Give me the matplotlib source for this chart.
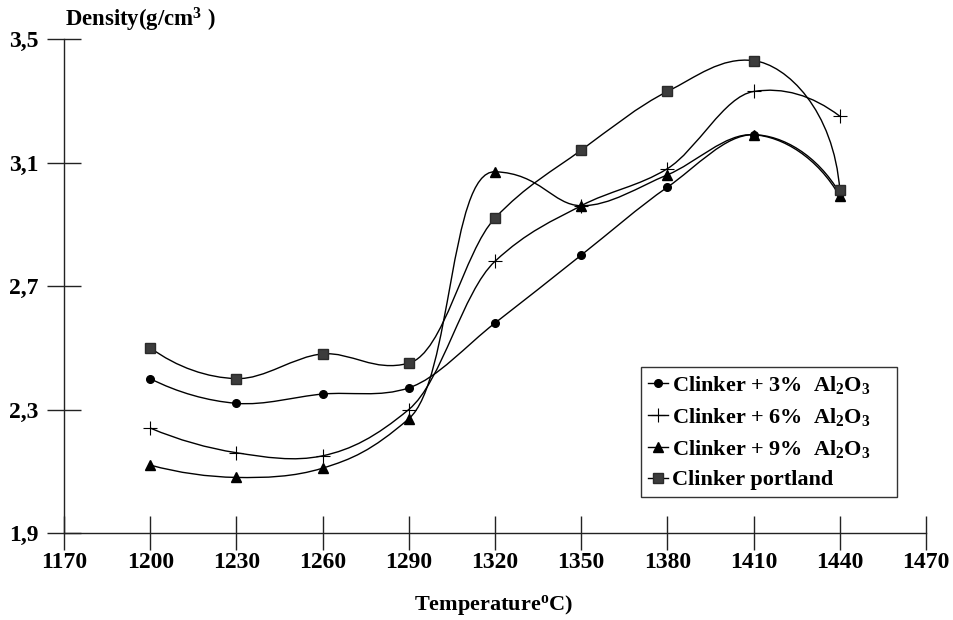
import numpy as np
import matplotlib
matplotlib.use("Agg")
import matplotlib.pyplot as plt
from matplotlib.path import Path
from matplotlib.patches import PathPatch
from matplotlib.lines import Line2D

plt.rcParams['font.family'] = ['Liberation Serif', 'DejaVu Serif']
plt.rcParams['font.weight'] = 'bold'
plt.rcParams['mathtext.default'] = 'regular'

temperature = [1200, 1230, 1260, 1290, 1320, 1350, 1380, 1410, 1440]
al3 = [2.40, 2.32, 2.35, 2.37, 2.58, 2.80, 3.02, 3.19, 3.00]
al6 = [2.24, 2.16, 2.15, 2.30, 2.78, 2.96, 3.08, 3.33, 3.25]
al9 = [2.12, 2.08, 2.11, 2.27, 3.07, 2.96, 3.06, 3.19, 2.99]
portland = [2.50, 2.40, 2.48, 2.45, 2.92, 3.14, 3.33, 3.43, 3.01]

labels = ['Clinker + 3%  Al$_2$O$_3$', 'Clinker + 6%  Al$_2$O$_3$',
          'Clinker + 9%  Al$_2$O$_3$', 'Clinker portland']
xticks = [1170, 1200, 1230, 1260, 1290, 1320, 1350, 1380, 1410, 1440, 1470]
yticks = [1.9, 2.3, 2.7, 3.1, 3.5]
yticklabels = ['1,9', '2,3', '2,7', '3,1', '3,5']


def smooth_path(ax, x, y):
    """Smoothed Bezier path through the points (control points computed in display space)."""
    tr = ax.transData
    pts = tr.transform(np.column_stack([x, y]).astype(float))
    n = len(pts)
    seg = pts[1:] - pts[:-1]
    d = np.hypot(seg[:, 0], seg[:, 1])
    u = seg / d[:, None]
    m = np.zeros_like(pts)
    span = np.zeros(n)
    for i in range(1, n - 1):
        v = u[i - 1] * d[i] + u[i] * d[i - 1]
        m[i] = v / np.hypot(*v)
        span[i] = np.hypot(*(pts[i + 1] - pts[i - 1])) / 6
    verts = [pts[0]]
    codes = [Path.MOVETO]
    for i in range(n - 1):
        if i == 0:
            c1 = pts[0] + (2 * u[0] - m[1]) * d[0] / 3
        else:
            c1 = pts[i] + m[i] * min(span[i], d[i] / 2)
        if i + 1 == n - 1:
            c2 = pts[-1] - (2 * u[-1] - m[-2]) * d[-1] / 3
        else:
            c2 = pts[i + 1] - m[i + 1] * min(span[i + 1], d[i] / 2)
        verts += [c1, c2, pts[i + 1]]
        codes += [Path.CURVE4] * 3
    verts = tr.inverted().transform(np.array(verts))
    return Path(verts, codes)


fig = plt.figure(figsize=(9.54, 6.2), dpi=100)
ax = fig.add_axes([64 / 954, 87 / 620, 862 / 954, 494 / 620])
ax.set_xlim(1170, 1470)
ax.set_ylim(1.9, 3.5)

styles = [
    dict(marker='o', markersize=5.5, markerfacecolor='black', markeredgecolor='black'),
    dict(marker='+', markersize=10, markeredgewidth=0.8, markeredgecolor='black'),
    dict(marker='^', markersize=7, markerfacecolor='black', markeredgecolor='black'),
    dict(marker='s', markersize=7.5, markerfacecolor='#3c3c3c', markeredgecolor='#2a2a2a'),
]
series = [al3, al6, al9, portland]
handles = []
for vals, st, lab in zip(series, styles, labels):
    ax.add_patch(PathPatch(smooth_path(ax, temperature, vals), facecolor='none',
                           edgecolor='black', lw=1.0))
    ax.plot(temperature, vals, linestyle='none', **st)
    handles.append(Line2D([], [], color='black', lw=1.0, **st))

ax.set_xticks(xticks)
ax.set_xticklabels([str(t) for t in xticks])
ax.set_yticks(yticks)
ax.set_yticklabels(yticklabels)
for s in ['top', 'right']:
    ax.spines[s].set_visible(False)
for s in ['left', 'bottom']:
    ax.spines[s].set_linewidth(1.0)
    ax.spines[s].set_color('#222222')
ax.tick_params(axis='both', direction='inout', length=25, width=1.0, color='#222222',
               labelsize=17)
ax.tick_params(axis='y', pad=6)
ax.tick_params(axis='x', pad=1)
for lbl in ax.get_xticklabels() + ax.get_yticklabels():
    lbl.set_fontweight('bold')

fig.text(494 / 954, 1 - 605 / 620, 'Temperature$^o$C)', ha='center', va='center',
         fontsize=16, fontweight='bold')
fig.text(65 / 954, 1 - 26 / 620, 'Density(g/cm$^3$ )', ha='left', va='baseline',
         fontsize=16.4, fontweight='bold')

leg = ax.legend(handles, labels, loc='lower left',
                bbox_to_anchor=((641 - 64) / 862, (533 - 497) / 494, 256 / 862, 129 / 494),
                mode='expand', frameon=True, fancybox=False, shadow=False, fontsize=16,
                handlelength=0.9, handletextpad=0.18, labelspacing=0.45,
                borderpad=0.3, borderaxespad=0)
leg.get_frame().set_edgecolor('black')
leg.get_frame().set_linewidth(1.0)
for t in leg.get_texts():
    t.set_fontweight('bold')

fig.savefig('out.png', dpi=100)
